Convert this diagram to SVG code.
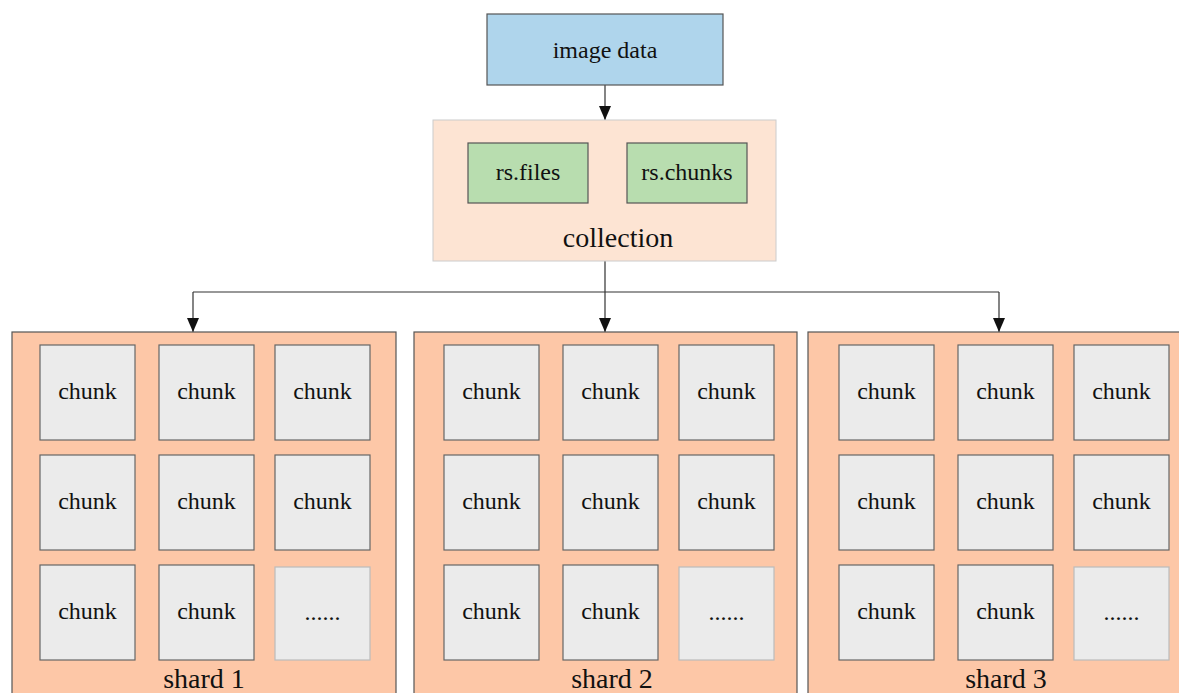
<svg xmlns="http://www.w3.org/2000/svg" width="1179" height="693" viewBox="0 0 1179 693">
<style>
text{font-family:"Liberation Serif","DejaVu Serif",serif;fill:#111;text-anchor:middle}
.t24{font-size:24px}
.t28{font-size:28px}
.chunk{fill:#EBEBEB;stroke:#666;stroke-width:1.2}
.shard{fill:#FDC7A7;stroke:#555;stroke-width:1.2}
.conn{fill:none;stroke:#333;stroke-width:1.2}
</style>
<defs>
<marker id="arr" viewBox="0 0 14 12" refX="14" refY="6" markerWidth="14" markerHeight="12" markerUnits="userSpaceOnUse" orient="auto">
<path d="M0,0 L14,6 L0,12 Z" fill="#111"/>
</marker>
<g id="grid">
<rect class="chunk" x="28" y="13" width="95" height="95"/>
<rect class="chunk" x="147" y="13" width="95" height="95"/>
<rect class="chunk" x="263" y="13" width="95" height="95"/>
<rect class="chunk" x="28" y="123" width="95" height="95"/>
<rect class="chunk" x="147" y="123" width="95" height="95"/>
<rect class="chunk" x="263" y="123" width="95" height="95"/>
<rect class="chunk" x="28" y="233" width="95" height="95"/>
<rect class="chunk" x="147" y="233" width="95" height="95"/>
<rect class="chunk" x="263" y="235" width="95" height="93" style="stroke:#bbb"/>
<text class="t24" x="75.5" y="67">chunk</text>
<text class="t24" x="194.5" y="67">chunk</text>
<text class="t24" x="310.5" y="67">chunk</text>
<text class="t24" x="75.5" y="177">chunk</text>
<text class="t24" x="194.5" y="177">chunk</text>
<text class="t24" x="310.5" y="177">chunk</text>
<text class="t24" x="75.5" y="287">chunk</text>
<text class="t24" x="194.5" y="287">chunk</text>
<text class="t24" x="310.5" y="288">......</text>
</g>
</defs>
<rect width="1179" height="693" fill="#fff"/>
<g id="connectors">
<line class="conn" x1="605" y1="85" x2="605" y2="120" marker-end="url(#arr)"/>
<path class="conn" d="M605,261 V292 M193,292 H999"/>
<line class="conn" x1="193" y1="292" x2="193" y2="332" marker-end="url(#arr)"/>
<line class="conn" x1="605" y1="292" x2="605" y2="332" marker-end="url(#arr)"/>
<line class="conn" x1="999" y1="292" x2="999" y2="332" marker-end="url(#arr)"/>
</g>
<g id="image-data">
<rect x="487" y="14" width="236" height="71" fill="#AFD5EC" stroke="#555" stroke-width="1.2"/>
<text class="t24" x="605" y="58">image data</text>
</g>
<g id="collection">
<rect x="433" y="120" width="343" height="141" fill="#FDE4D3" stroke="#ccc" stroke-width="1"/>
<text class="t28" x="618" y="247">collection</text>
</g>
<g id="rs-files">
<rect x="468" y="143" width="120" height="60" fill="#B8DDAF" stroke="#555" stroke-width="1.2"/>
<text class="t24" x="528" y="180">rs.files</text>
</g>
<g id="rs-chunks">
<rect x="627" y="143" width="120" height="60" fill="#B8DDAF" stroke="#555" stroke-width="1.2"/>
<text class="t24" x="687" y="180">rs.chunks</text>
</g>
<g id="shard1">
<rect class="shard" x="12" y="332" width="384" height="370"/>
<use href="#grid" x="12" y="332"/>
<text class="t28" x="204" y="688">shard 1</text>
</g>
<g id="shard2">
<rect class="shard" x="414" y="332" width="383" height="370"/>
<use href="#grid" x="416" y="332"/>
<text class="t28" x="612" y="688">shard 2</text>
</g>
<g id="shard3">
<rect class="shard" x="808" y="332" width="380" height="370"/>
<use href="#grid" x="811" y="332"/>
<text class="t28" x="1006" y="688">shard 3</text>
</g>
</svg>
